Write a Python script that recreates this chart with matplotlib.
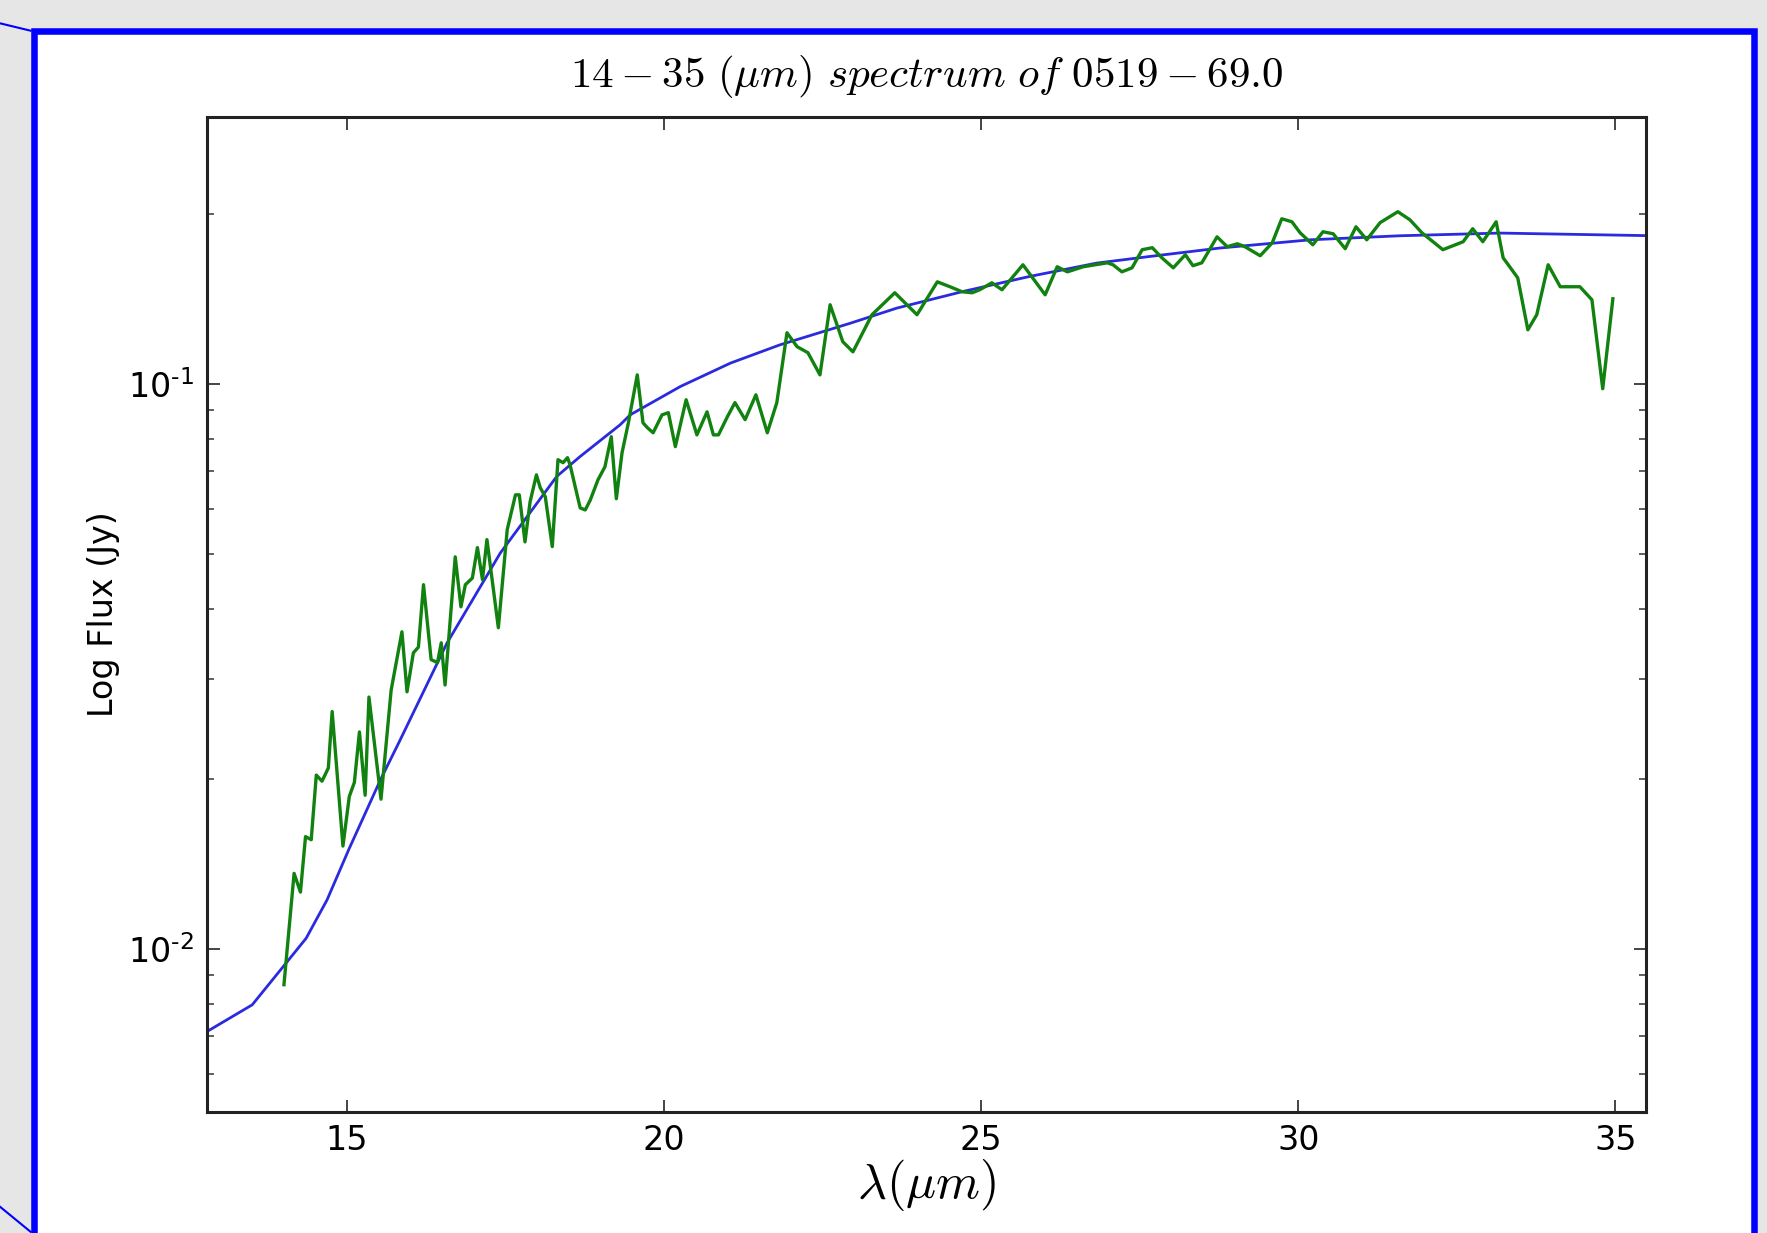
import numpy as np
import matplotlib
matplotlib.use('Agg')
import matplotlib.pyplot as plt
from matplotlib.patches import Rectangle
from matplotlib.lines import Line2D
from matplotlib.ticker import NullFormatter, FuncFormatter

# model fit (blue)
model_wave = [12.64, 13.51, 14.36, 14.69, 15.03, 15.53, 15.84, 16.58, 17.42, 18.31,
              18.68, 19.31, 19.47, 20.26, 21.05, 21.83, 22.94, 23.67, 24.72, 25.77,
              26.82, 27.66, 28.77, 30.19, 31.61, 33.18, 35.6]
model_flux = [0.00697, 0.00796, 0.01044, 0.01221, 0.01497, 0.0199, 0.0234, 0.03476,
              0.05016, 0.06855, 0.07436, 0.08461, 0.08813, 0.0989, 0.1088, 0.1172,
              0.128, 0.1361, 0.1457, 0.1549, 0.1635, 0.168, 0.1739, 0.1798, 0.1828,
              0.1848, 0.1828]

# measured spectrum (green)
spec_wave = [14.01, 14.17, 14.27, 14.35, 14.44, 14.52, 14.61, 14.71, 14.77, 14.94,
             15.04, 15.12, 15.20, 15.29, 15.35, 15.54, 15.70, 15.87, 15.95, 16.05,
             16.13, 16.21, 16.33, 16.43, 16.49, 16.55, 16.71, 16.80, 16.87, 16.98,
             17.06, 17.14, 17.21, 17.39, 17.53, 17.66, 17.72, 17.81, 17.89, 17.99,
             18.05, 18.13, 18.24, 18.33, 18.41, 18.48, 18.52, 18.68, 18.76, 18.84,
             18.96, 19.07, 19.17, 19.25, 19.34, 19.44, 19.58, 19.67, 19.74, 19.83,
             19.97, 20.07, 20.18, 20.35, 20.52, 20.68, 20.78, 20.86, 21.00, 21.12,
             21.28, 21.45, 21.63, 21.78, 21.94, 22.10, 22.27, 22.46, 22.62, 22.82,
             22.98, 23.28, 23.64, 23.99, 24.31, 24.51, 24.70, 24.86, 24.98, 25.17,
             25.33, 25.66, 26.01, 26.20, 26.36, 26.61, 26.99, 27.08, 27.22, 27.38,
             27.54, 27.70, 27.85, 28.03, 28.22, 28.34, 28.48, 28.72, 28.88, 29.04,
             29.16, 29.40, 29.59, 29.74, 29.90, 30.03, 30.23, 30.39, 30.55, 30.74,
             30.91, 31.08, 31.29, 31.57, 31.76, 31.95, 32.28, 32.60, 32.75, 32.91,
             33.12, 33.23, 33.46, 33.62, 33.76, 33.94, 34.13, 34.44, 34.63, 34.80,
             34.96]
spec_flux = [0.00864, 0.0136, 0.0126, 0.0158, 0.0156, 0.0203, 0.0198, 0.0209, 0.0263, 0.0152,
             0.0186, 0.0197, 0.0242, 0.0187, 0.0279, 0.0184, 0.0287, 0.0364, 0.0285, 0.0334,
             0.0342, 0.0441, 0.0325, 0.0321, 0.0348, 0.0293, 0.0494, 0.0403, 0.0441, 0.0453,
             0.0513, 0.0450, 0.0530, 0.0370, 0.0552, 0.0636, 0.0636, 0.0525, 0.0618, 0.0690,
             0.0655, 0.0631, 0.0515, 0.0734, 0.0725, 0.0740, 0.0719, 0.0603, 0.0598, 0.0623,
             0.0676, 0.0713, 0.0806, 0.0626, 0.0755, 0.0853, 0.1037, 0.0853, 0.0836, 0.0819,
             0.0881, 0.0889, 0.0774, 0.0937, 0.0812, 0.0892, 0.0812, 0.0812, 0.0874, 0.0926,
             0.0864, 0.0956, 0.0819, 0.0926, 0.1231, 0.1163, 0.1135, 0.1037, 0.138, 0.1187,
             0.1139, 0.1325, 0.1449, 0.1325, 0.1515, 0.1485, 0.1455, 0.1449, 0.1467, 0.1509,
             0.1467, 0.1624, 0.1437, 0.1611, 0.1578, 0.1611, 0.1637, 0.1624, 0.1578, 0.1604,
             0.1727, 0.1741, 0.1671, 0.1604, 0.1692, 0.1618, 0.1637, 0.182, 0.1748, 0.1769,
             0.1748, 0.1685, 0.1776, 0.1959, 0.1935, 0.185, 0.1762, 0.1858, 0.1843, 0.1734,
             0.1896, 0.1798, 0.1928, 0.2016, 0.1951, 0.185, 0.1727, 0.1784, 0.1881, 0.1784,
             0.1935, 0.1671, 0.154, 0.1246, 0.1325, 0.1624, 0.1485, 0.1485, 0.1408, 0.098,
             0.1414]

x_ticks = [15, 20, 25, 30, 35]

plt.rcParams['font.family'] = 'DejaVu Sans'
plt.rcParams['mathtext.fontset'] = 'cm'


def decade_label(v, pos):
    # old-style "10^-1" label with a short hyphen in the exponent
    e = int(round(np.log10(v)))
    return r'$\mathdefault{10^{%s}}$' % (str(e).replace('-', '\u2010'))


fig = plt.figure(figsize=(17.67, 12.33), dpi=100, facecolor='#e6e6e6')

# slide frame around the plot
fig.patches.append(Rectangle((0.0192, -0.05), 0.9737, 1.0249, transform=fig.transFigure,
                             facecolor='white', edgecolor='#0000ff', linewidth=4.7, zorder=-10))
fig.lines.append(Line2D([0, 0.0173], [0.9811, 0.9751], transform=fig.transFigure,
                        color='#0000ff', linewidth=1.5, zorder=-5))
fig.lines.append(Line2D([0, 0.0173], [0.0213, 0.0010], transform=fig.transFigure,
                        color='#0000ff', linewidth=1.5, zorder=-5))

ax = fig.add_axes([0.1169, 0.0984, 0.8149, 0.807])
ax.set_zorder(5)
ax.plot(model_wave, model_flux, color='#2a2ade', linewidth=2.0)
ax.plot(spec_wave, spec_flux, color='#11820f', linewidth=2.4)

ax.set_yscale('log')
ax.set_xlim(12.79, 35.49)
ax.set_ylim(0.00515, 0.297)
ax.set_xticks(x_ticks)
ax.yaxis.set_major_formatter(FuncFormatter(decade_label))
ax.yaxis.set_minor_formatter(NullFormatter())

for s in ax.spines.values():
    s.set_linewidth(2.2)
    s.set_color('#222222')
ax.tick_params(which='both', direction='in', top=True, right=True, color='#444444')
ax.tick_params(which='major', length=9, width=1.4, labelsize=24, pad=9)
ax.tick_params(which='minor', length=5, width=1.2)

ax.set_title(r'$14-35\ (\mu m)\ spectrum\ of\ 0519-69.0$', fontsize=31, pad=21)
ax.set_xlabel(r'$\lambda (\mu m)$', fontsize=36, labelpad=0)
ax.set_ylabel('Log Flux (Jy)', fontsize=24, labelpad=6)

fig.savefig('out.png', dpi=100, facecolor=fig.get_facecolor())
